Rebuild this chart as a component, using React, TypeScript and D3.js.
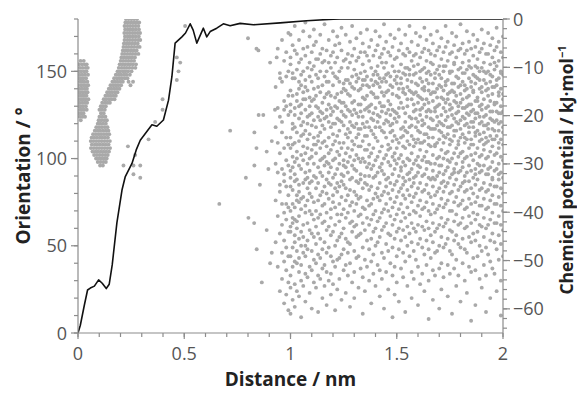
import React from 'react';
import * as d3 from 'd3';

// axis ticks
const distanceTicks = [0, 0.5, 1, 1.5, 2];
const orientationTicks = [0, 50, 100, 150];
const potentialTicks = [0, -10, -20, -30, -40, -50, -60];

// chemical potential profile (kJ/mol) vs distance (nm)
const potentialDistance = [
  0, 0.011, 0.03, 0.045, 0.058, 0.077, 0.097, 0.114, 0.133, 0.147, 0.161, 0.183, 0.207,
  0.222, 0.254, 0.274, 0.293, 0.324, 0.348, 0.371, 0.402, 0.426, 0.442, 0.457, 0.489,
  0.506, 0.528, 0.542, 0.559, 0.59, 0.606, 0.622, 0.653, 0.684, 0.716, 0.763, 0.825,
  0.951, 1.076, 1.201, 1.233, 2.0,
];
const potentialValue = [
  -65, -63.4, -59.2, -56.1, -55.7, -55.3, -54.0, -54.7, -55.8, -54.9, -50.9, -42.2, -35.4,
  -32.7, -29.9, -27.1, -25.1, -23.3, -21.9, -22.2, -20.9, -16.8, -11.9, -5.0, -3.7,
  -2.9, -1.0, -2.3, -5.0, -1.9, -3.7, -2.6, -1.9, -1.0, -1.4, -0.9, -1.2,
  -0.8, -0.35, -0.05, 0, 0,
];

// dense clusters near the surface: [orientation, distances]
const clusterRows: [number, number[]][] = [
  // first cluster, 0 - 0.05 nm
  [156, [0.012, 0.027]],
  [154, [0.004, 0.018, 0.031, 0.041]],
  [152, [0.009, 0.022, 0.036, 0.046]],
  [150, [0.002, 0.015, 0.028, 0.04]],
  [148, [0.007, 0.02, 0.033, 0.047]],
  [146, [0.003, 0.013, 0.025, 0.038]],
  [144, [0.009, 0.019, 0.03, 0.044]],
  [142, [0.001, 0.014, 0.026, 0.037, 0.048]],
  [140, [0.006, 0.018, 0.031, 0.042]],
  [138, [0.003, 0.011, 0.023, 0.035, 0.045]],
  [136, [0.008, 0.019, 0.029, 0.04]],
  [134, [0.002, 0.014, 0.025, 0.036, 0.049]],
  [132, [0.007, 0.02, 0.032, 0.043]],
  [130, [0.004, 0.012, 0.024, 0.037]],
  [128, [0.009, 0.018, 0.029, 0.041]],
  [126, [0.003, 0.015, 0.026]],
  [124, [0.008, 0.021, 0.033]],
  [122, [0.013]],
  // second cluster, 0.06 - 0.15 nm
  [126, [0.108, 0.121]],
  [124, [0.101, 0.115, 0.129]],
  [122, [0.097, 0.11, 0.124, 0.136]],
  [120, [0.093, 0.105, 0.118, 0.131]],
  [118, [0.086, 0.099, 0.112, 0.126, 0.139]],
  [116, [0.079, 0.092, 0.104, 0.117, 0.13, 0.143]],
  [114, [0.071, 0.084, 0.097, 0.109, 0.122, 0.135, 0.147]],
  [112, [0.064, 0.077, 0.09, 0.103, 0.115, 0.128, 0.141]],
  [110, [0.06, 0.072, 0.085, 0.098, 0.111, 0.124, 0.137, 0.15]],
  [108, [0.065, 0.079, 0.091, 0.104, 0.117, 0.13, 0.144]],
  [106, [0.061, 0.074, 0.087, 0.099, 0.112, 0.125, 0.138, 0.151]],
  [104, [0.068, 0.082, 0.094, 0.107, 0.12, 0.133, 0.146]],
  [102, [0.076, 0.089, 0.102, 0.115, 0.128, 0.14]],
  [100, [0.085, 0.097, 0.11, 0.123, 0.135]],
  [98, [0.093, 0.106, 0.119, 0.131]],
  [96, [0.104, 0.117]],
  // rising band, 0.10 - 0.29 nm
  [128, [0.101, 0.113, 0.126]],
  [130, [0.107, 0.119, 0.131]],
  [132, [0.114, 0.127, 0.139, 0.15]],
  [134, [0.121, 0.133, 0.146, 0.158, 0.172]],
  [136, [0.129, 0.141, 0.153, 0.166, 0.178]],
  [138, [0.137, 0.149, 0.161, 0.174, 0.186]],
  [140, [0.145, 0.157, 0.17, 0.182, 0.195]],
  [142, [0.153, 0.166, 0.178, 0.19, 0.203, 0.247]],
  [144, [0.162, 0.174, 0.186, 0.199, 0.211, 0.238, 0.259]],
  [146, [0.17, 0.183, 0.195, 0.207, 0.22, 0.233]],
  [148, [0.178, 0.191, 0.203, 0.216, 0.228, 0.244]],
  [150, [0.186, 0.198, 0.211, 0.223, 0.236, 0.252]],
  [152, [0.192, 0.205, 0.217, 0.229, 0.242, 0.256, 0.27]],
  [154, [0.196, 0.209, 0.221, 0.234, 0.246, 0.259, 0.273]],
  [156, [0.201, 0.213, 0.226, 0.238, 0.251, 0.264]],
  [158, [0.204, 0.217, 0.229, 0.242, 0.255, 0.268]],
  [160, [0.208, 0.22, 0.233, 0.246, 0.258, 0.271, 0.284]],
  [162, [0.211, 0.224, 0.236, 0.249, 0.262, 0.276]],
  [164, [0.214, 0.227, 0.239, 0.252, 0.265, 0.279, 0.29]],
  [166, [0.216, 0.229, 0.241, 0.254, 0.267, 0.281]],
  [168, [0.219, 0.232, 0.244, 0.257, 0.27, 0.283, 0.293]],
  [170, [0.221, 0.234, 0.246, 0.259, 0.272, 0.286]],
  [172, [0.218, 0.231, 0.243, 0.256, 0.268, 0.281, 0.292]],
  [174, [0.222, 0.235, 0.247, 0.26, 0.273, 0.287]],
  [176, [0.219, 0.232, 0.245, 0.258, 0.271, 0.284]],
  [178, [0.223, 0.236, 0.249, 0.262, 0.275, 0.288]],
  [180, [0.226, 0.239, 0.252, 0.265, 0.278]],
];

// isolated points: [distance, orientation]
const sparsePoints: [number, number][] = [
  [0.214, 96], [0.235, 107], [0.261, 96], [0.261, 91], [0.269, 102], [0.293, 96], [0.293, 89],
  [0.332, 111], [0.363, 121], [0.398, 128], [0.398, 134], [0.465, 145], [0.465, 158],
  [0.481, 155], [0.473, 150], [0.504, 176], [0.665, 74], [0.716, 116], [0.8, 169],
  [0.84, 163], [0.849, 162], [0.904, 155], [0.935, 158], [0.83, 115], [0.85, 125],
  [0.872, 125], [0.927, 128], [0.84, 106], [0.83, 96], [0.896, 94], [0.888, 104],
  [0.912, 110], [0.951, 146], [0.79, 89], [0.856, 85], [0.802, 66], [0.829, 63],
  [0.888, 59], [0.841, 48], [0.904, 40], [0.865, 29], [0.912, 46],
];

// bulk cloud: [distance, orientations]
const cloudColumns: [number, number[]][] = [
  [0.93, [141, 118, 97, 76, 52]],
  [0.94, [163, 129, 109, 92, 67, 38]],
  [0.95, [149, 124, 103, 85, 81, 57, 24]],
  [0.96, [168, 144, 121, 115, 94, 62, 46, 31, 74]],
  [0.97, [156, 133, 128, 106, 91, 69, 53, 41, 17, 87]],
  [0.98, [161, 147, 130, 112, 99, 84, 74, 65, 49, 36, 22]],
  [0.99, [172, 150, 136, 125, 108, 96, 79, 72, 58, 44, 29, 13]],
  [1.0, [171, 158, 154, 139, 131, 127, 112, 106, 93, 89, 84, 70, 61, 58, 44, 33, 26, 11]],
  [1.01, [165, 149, 146, 136, 120, 117, 108, 101, 95, 82, 74, 66, 63, 49, 38, 19]],
  [1.02, [176, 162, 146, 129, 125, 118, 109, 98, 91, 87, 72, 65, 56, 52, 41, 28, 15]],
  [1.03, [160, 151, 137, 133, 115, 104, 100, 88, 79, 76, 64, 60, 47, 40, 24]],
  [1.04, [168, 155, 144, 140, 123, 110, 96, 85, 81, 75, 67, 54, 43, 35, 21, 130]],
  [1.05, [157, 148, 131, 126, 119, 113, 102, 94, 77, 71, 58, 50, 39, 30, 9, 142]],
  [1.06, [173, 163, 150, 138, 134, 121, 107, 99, 86, 78, 62, 55, 46, 27, 114]],
  [1.07, [178, 159, 145, 141, 128, 116, 103, 92, 88, 73, 69, 50, 44, 34, 18, 134]],
  [1.08, [164, 152, 139, 124, 111, 106, 97, 83, 76, 63, 53, 48, 32, 120, 89]],
  [1.09, [170, 155, 147, 135, 130, 114, 100, 93, 80, 70, 59, 38, 23, 125, 86]],
  [1.1, [161, 151, 144, 126, 119, 105, 101, 87, 78, 68, 57, 47, 36, 14, 133]],
  [1.11, [174, 165, 153, 140, 134, 122, 112, 97, 90, 75, 65, 55, 42, 29, 108]],
  [1.12, [167, 148, 136, 130, 118, 108, 103, 89, 83, 70, 61, 51, 40, 26, 157]],
  [1.13, [157, 146, 141, 124, 113, 110, 95, 86, 76, 66, 57, 45, 33, 12, 129]],
  [1.14, [171, 160, 150, 138, 127, 115, 106, 99, 92, 79, 68, 54, 43, 31, 122]],
  [1.15, [163, 155, 142, 132, 119, 109, 100, 90, 81, 73, 63, 48, 37, 20, 126]],
  [1.16, [177, 156, 147, 135, 123, 117, 101, 96, 84, 74, 64, 52, 39, 27, 110]],
  [1.17, [162, 150, 144, 128, 124, 107, 98, 88, 80, 69, 59, 46, 35, 16, 137]],
  [1.18, [168, 155, 138, 131, 121, 112, 103, 92, 86, 77, 61, 49, 30, 144, 97]],
  [1.19, [159, 152, 136, 125, 118, 105, 95, 85, 71, 66, 56, 44, 34, 22, 129]],
  [1.2, [173, 161, 149, 142, 127, 114, 108, 99, 89, 79, 75, 58, 41, 28, 120]],
  [1.21, [165, 147, 135, 130, 120, 110, 100, 91, 83, 72, 62, 50, 38, 13, 155]],
  [1.22, [170, 158, 146, 129, 123, 113, 104, 94, 86, 81, 68, 53, 42, 25, 137]],
  [1.23, [166, 150, 144, 133, 122, 116, 102, 97, 84, 74, 64, 55, 43, 31, 109]],
  [1.24, [175, 162, 152, 138, 127, 121, 106, 91, 87, 78, 68, 57, 45, 19, 132]],
  [1.25, [156, 143, 140, 132, 119, 109, 99, 90, 85, 71, 60, 48, 36, 125, 96]],
  [1.26, [171, 157, 145, 139, 124, 114, 103, 95, 83, 76, 66, 54, 39, 23, 130]],
  [1.27, [160, 152, 137, 128, 117, 112, 98, 92, 79, 69, 52, 46, 33, 145, 106]],
  [1.28, [167, 155, 143, 136, 121, 115, 101, 88, 82, 73, 63, 51, 40, 15, 127]],
  [1.29, [176, 159, 147, 141, 125, 119, 105, 96, 89, 75, 64, 58, 29, 132, 110]],
  [1.3, [163, 151, 133, 128, 118, 108, 99, 94, 81, 70, 61, 47, 35, 20, 140]],
  [1.31, [169, 156, 148, 144, 126, 112, 102, 93, 79, 74, 62, 55, 43, 120, 87]],
  [1.32, [158, 146, 139, 124, 117, 114, 100, 86, 77, 67, 56, 44, 26, 131, 107]],
  [1.33, [172, 161, 149, 131, 127, 117, 107, 91, 88, 78, 68, 57, 37, 140, 98]],
  [1.34, [166, 154, 145, 142, 124, 120, 110, 100, 83, 72, 63, 49, 32, 11, 135]],
  [1.35, [161, 150, 134, 128, 118, 113, 98, 90, 86, 71, 59, 42, 24, 145, 105]],
  [1.36, [174, 159, 147, 142, 136, 121, 105, 95, 85, 76, 66, 53, 38, 129, 113]],
  [1.37, [164, 156, 141, 130, 127, 108, 101, 97, 82, 73, 62, 48, 30, 118, 90]],
  [1.38, [168, 152, 145, 138, 123, 116, 103, 94, 84, 74, 65, 54, 41, 17, 131]],
  [1.39, [159, 148, 137, 126, 122, 106, 96, 89, 77, 68, 58, 45, 34, 142, 114]],
  [1.4, [173, 162, 150, 144, 129, 118, 112, 99, 90, 80, 70, 60, 50, 27, 135]],
  [1.41, [165, 153, 143, 135, 125, 121, 101, 92, 83, 78, 64, 52, 39, 110, 148]],
  [1.42, [170, 158, 146, 141, 124, 118, 104, 95, 86, 76, 66, 55, 36, 21, 132]],
  [1.43, [160, 155, 138, 130, 127, 107, 97, 93, 79, 69, 59, 46, 31, 116, 144]],
  [1.44, [177, 163, 152, 146, 130, 120, 115, 100, 91, 81, 71, 61, 43, 14, 136]],
  [1.45, [167, 155, 144, 138, 126, 122, 112, 102, 88, 84, 74, 63, 51, 35, 148]],
  [1.46, [161, 149, 139, 128, 121, 108, 105, 98, 89, 80, 70, 57, 47, 25, 133]],
  [1.47, [171, 159, 147, 142, 131, 125, 115, 106, 96, 86, 77, 67, 56, 40, 119]],
  [1.48, [164, 153, 141, 137, 120, 116, 110, 101, 91, 82, 72, 62, 49, 33, 9, 128]],
  [1.49, [169, 157, 150, 145, 127, 123, 113, 103, 99, 94, 85, 75, 65, 54, 38, 22]],
  [1.5, [158, 147, 143, 136, 126, 121, 111, 106, 97, 87, 78, 68, 58, 44, 29]],
  [1.51, [174, 162, 150, 140, 135, 129, 124, 109, 100, 90, 81, 71, 60, 48, 18]],
  [1.52, [166, 154, 146, 143, 132, 117, 112, 102, 95, 93, 83, 74, 64, 53, 37]],
  [1.53, [160, 149, 140, 138, 129, 118, 113, 107, 98, 89, 85, 79, 69, 59, 46, 32]],
  [1.54, [171, 159, 152, 148, 137, 126, 121, 116, 106, 96, 87, 77, 66, 55, 41, 12]],
  [1.55, [163, 152, 145, 141, 134, 130, 115, 110, 100, 91, 82, 72, 61, 50, 27]],
  [1.56, [176, 161, 151, 148, 139, 124, 118, 108, 99, 92, 88, 79, 68, 57, 44]],
  [1.57, [167, 156, 144, 138, 134, 123, 119, 113, 103, 94, 84, 75, 63, 52, 35, 20]],
  [1.58, [159, 153, 148, 137, 131, 127, 111, 107, 97, 89, 86, 78, 70, 60, 47, 31]],
  [1.59, [172, 160, 149, 143, 138, 128, 123, 118, 109, 99, 90, 80, 69, 58, 42]],
  [1.6, [165, 154, 142, 136, 132, 121, 116, 111, 101, 96, 92, 83, 73, 62, 51, 38, 16]],
  [1.61, [170, 158, 150, 146, 135, 128, 125, 115, 109, 105, 95, 86, 76, 67, 54, 28]],
  [1.62, [161, 151, 144, 140, 134, 129, 122, 119, 109, 99, 90, 81, 71, 61, 49, 34]],
  [1.63, [175, 163, 152, 141, 139, 131, 120, 114, 110, 101, 91, 82, 72, 59, 45, 24]],
  [1.64, [168, 156, 149, 145, 134, 127, 124, 114, 104, 98, 94, 85, 75, 64, 53, 39]],
  [1.65, [162, 150, 143, 139, 132, 128, 118, 112, 108, 98, 89, 80, 70, 60, 48, 30, 8]],
  [1.66, [171, 160, 155, 148, 137, 127, 123, 117, 107, 97, 88, 78, 68, 56, 43]],
  [1.67, [166, 154, 143, 138, 133, 122, 117, 112, 102, 93, 89, 84, 74, 63, 52, 36, 19]],
  [1.68, [159, 149, 146, 138, 129, 127, 117, 108, 107, 97, 88, 79, 69, 58, 46, 33]],
  [1.69, [173, 162, 151, 140, 135, 130, 124, 119, 109, 100, 90, 81, 71, 60, 47]],
  [1.7, [164, 153, 148, 142, 131, 121, 116, 111, 101, 96, 92, 83, 73, 62, 50, 37, 14]],
  [1.71, [169, 157, 146, 141, 135, 125, 120, 115, 105, 96, 86, 77, 66, 55, 40, 25]],
  [1.72, [161, 153, 150, 139, 134, 129, 119, 113, 109, 100, 91, 87, 81, 72, 61, 49, 32]],
  [1.73, [176, 164, 153, 144, 142, 132, 127, 122, 112, 103, 93, 84, 74, 63, 51]],
  [1.74, [167, 156, 145, 137, 134, 124, 118, 114, 104, 99, 95, 86, 76, 65, 54, 39, 21]],
  [1.75, [160, 150, 149, 138, 131, 128, 118, 111, 108, 98, 89, 80, 70, 59, 47, 34]],
  [1.76, [172, 161, 150, 143, 139, 129, 125, 119, 110, 100, 91, 81, 70, 58, 45, 11]],
  [1.77, [165, 155, 154, 143, 138, 133, 123, 116, 113, 103, 94, 92, 85, 75, 64, 53, 37]],
  [1.78, [170, 158, 147, 136, 132, 126, 121, 116, 106, 97, 88, 78, 68, 56, 42, 27]],
  [1.79, [162, 151, 146, 141, 130, 127, 120, 110, 108, 101, 92, 82, 73, 62, 51, 33]],
  [1.8, [177, 163, 152, 142, 137, 132, 122, 117, 112, 103, 93, 84, 74, 63, 49, 18]],
  [1.81, [166, 155, 149, 144, 134, 129, 124, 114, 104, 98, 95, 86, 76, 66, 54, 40]],
  [1.82, [160, 149, 142, 139, 129, 123, 119, 112, 109, 100, 90, 87, 81, 71, 60, 48, 30]],
  [1.83, [173, 162, 151, 140, 135, 130, 126, 120, 111, 101, 92, 82, 72, 61, 46, 23]],
  [1.84, [167, 156, 153, 146, 136, 131, 125, 118, 115, 106, 96, 87, 77, 67, 55, 38]],
  [1.85, [163, 152, 144, 141, 131, 127, 121, 111, 108, 102, 93, 83, 74, 63, 52, 35, 7]],
  [1.86, [171, 159, 148, 139, 138, 128, 121, 118, 108, 99, 89, 80, 69, 57, 43]],
  [1.87, [164, 153, 147, 143, 133, 126, 123, 115, 113, 103, 94, 91, 85, 75, 65, 53, 36, 16]],
  [1.88, [168, 157, 152, 146, 135, 133, 126, 116, 106, 97, 88, 78, 68, 58, 44]],
  [1.89, [161, 150, 145, 140, 130, 124, 120, 114, 110, 101, 96, 92, 82, 73, 62, 50, 31]],
  [1.9, [174, 163, 152, 141, 138, 131, 128, 121, 111, 102, 93, 83, 73, 61, 47, 26]],
  [1.91, [166, 155, 150, 145, 134, 124, 119, 115, 108, 105, 96, 86, 77, 66, 55, 39]],
  [1.92, [160, 149, 143, 139, 129, 125, 119, 112, 109, 100, 91, 81, 71, 60, 49, 33, 12]],
  [1.93, [172, 160, 150, 140, 136, 130, 120, 117, 110, 101, 94, 91, 82, 72, 62, 45]],
  [1.94, [165, 154, 148, 144, 133, 127, 123, 113, 104, 95, 85, 76, 65, 53, 41, 20]],
  [1.95, [169, 158, 147, 141, 137, 127, 122, 117, 111, 107, 98, 89, 88, 79, 69, 57, 37]],
  [1.96, [162, 155, 151, 141, 132, 131, 121, 116, 111, 102, 93, 84, 74, 63, 52, 34]],
  [1.97, [175, 164, 153, 145, 142, 132, 127, 122, 113, 103, 94, 84, 74, 63, 48, 24]],
  [1.98, [167, 156, 146, 138, 136, 126, 120, 116, 109, 106, 97, 91, 88, 78, 67, 56, 42]],
  [1.99, [161, 150, 149, 140, 130, 126, 121, 111, 101, 92, 83, 73, 62, 51, 30, 10]],
  [2.0, [170, 158, 148, 137, 134, 127, 118, 115, 108, 99, 89, 80, 70, 59, 44]],
];

const FONT = '"Open Sans", "Noto Sans", sans-serif';
const AXIS = '#8c8c8c';
const LABEL = '#555';
const TITLE = '#222';

const fmtMinus = (v: number) => (v < 0 ? '\u2212' + Math.abs(v) : String(v));

export default function App() {
  const width = 577;
  const height = 393;
  const margin = { top: 19, right: 74, bottom: 60, left: 78 };
  const x0 = margin.left;
  const x1 = width - margin.right;
  const y0 = height - margin.bottom;
  const y1 = margin.top;

  const x = d3.scaleLinear().domain([0, 2]).range([x0, x1]);
  const yO = d3.scaleLinear().domain([0, 180]).range([y0, y1]);
  const yP = d3.scaleLinear().domain([-65, 0]).range([y0, y1]);

  const points: [number, number][] = [
    ...clusterRows.flatMap(([o, ds]) => ds.map(d => [d, o] as [number, number])),
    ...sparsePoints,
    ...cloudColumns.flatMap(([d, os]) => os.map(o => [d, o] as [number, number])),
  ];

  const line = d3
    .line<number>()
    .x((_, i) => x(potentialDistance[i]))
    .y(v => yP(v));

  const xMinor = d3.range(0, 2.0001, 0.1);
  const oMinor = d3.range(0, 181, 10);
  const pMinor = d3.range(-64, 0.1, 2);

  return (
    <svg
      width={width}
      height={height}
      style={{ position: 'absolute', left: 0, top: 0, background: '#fff' }}
      fontFamily={FONT}
    >
      <defs>
        <clipPath id="plot">
          <rect x={x0} y={y1} width={x1 - x0} height={y0 - y1} />
        </clipPath>
      </defs>

      <g clipPath="url(#plot)">
        {points.map(([d, o], i) => (
          <circle key={i} cx={x(d)} cy={yO(o)} r={1.95} fill="#a9a9a9" />
        ))}
        <path
          d={line(potentialValue) || ''}
          fill="none"
          stroke="#111"
          strokeWidth={1.6}
          strokeLinejoin="round"
        />
      </g>

      {/* bottom axis */}
      <line x1={x0} x2={x1} y1={y0} y2={y0} stroke={AXIS} strokeWidth={1.2} />
      {xMinor.map((t, i) => (
        <line key={'xm' + i} x1={x(t)} x2={x(t)} y1={y0} y2={y0 + 4} stroke={AXIS} strokeWidth={1.2} />
      ))}
      {distanceTicks.map(t => (
        <g key={'x' + t}>
          <line x1={x(t)} x2={x(t)} y1={y0} y2={y0 + 6} stroke={AXIS} strokeWidth={1.2} />
          <text x={x(t)} y={y0 + 27} textAnchor="middle" fontSize={18} fill={LABEL}>
            {t}
          </text>
        </g>
      ))}

      {/* left axis */}
      <line x1={x0} x2={x0} y1={y0} y2={y1} stroke={AXIS} strokeWidth={1.2} />
      {oMinor.map((t, i) => (
        <line key={'om' + i} x1={x0 - 4} x2={x0} y1={yO(t)} y2={yO(t)} stroke={AXIS} strokeWidth={1.2} />
      ))}
      {orientationTicks.map(t => (
        <g key={'o' + t}>
          <line x1={x0 - 7} x2={x0} y1={yO(t)} y2={yO(t)} stroke={AXIS} strokeWidth={1.2} />
          <text x={x0 - 11} y={yO(t) + 6.5} textAnchor="end" fontSize={18} fill={LABEL}>
            {t}
          </text>
        </g>
      ))}

      {/* right axis */}
      <line x1={x1} x2={x1} y1={y0} y2={y1} stroke={AXIS} strokeWidth={1.2} />
      {pMinor.map((t, i) => (
        <line key={'pm' + i} x1={x1} x2={x1 + 4} y1={yP(t)} y2={yP(t)} stroke={AXIS} strokeWidth={1.2} />
      ))}
      {potentialTicks.map(t => (
        <g key={'p' + t}>
          <line x1={x1} x2={x1 + 7} y1={yP(t)} y2={yP(t)} stroke={AXIS} strokeWidth={1.2} />
          <text x={x1 + 10} y={yP(t) + 6.5} textAnchor="start" fontSize={18} fill={LABEL}>
            {fmtMinus(t)}
          </text>
        </g>
      ))}

      {/* titles */}
      <text x={(x0 + x1) / 2} y={386} textAnchor="middle" fontSize={19} fontWeight="bold" fill={TITLE}>
        Distance / nm
      </text>
      <text
        transform={`translate(30,${(y0 + y1) / 2}) rotate(-90)`}
        textAnchor="middle"
        fontSize={19}
        fontWeight="bold"
        fill={TITLE}
      >
        Orientation / °
      </text>
      <text
        transform={`translate(573,${(y0 + y1) / 2 - 6}) rotate(-90)`}
        textAnchor="middle"
        fontSize={17.5}
        fontWeight="bold"
        fill={TITLE}
      >
        Chemical potential / kJ·mol
        <tspan fontSize={11} dy={-7}>
          −1
        </tspan>
      </text>
    </svg>
  );
}
